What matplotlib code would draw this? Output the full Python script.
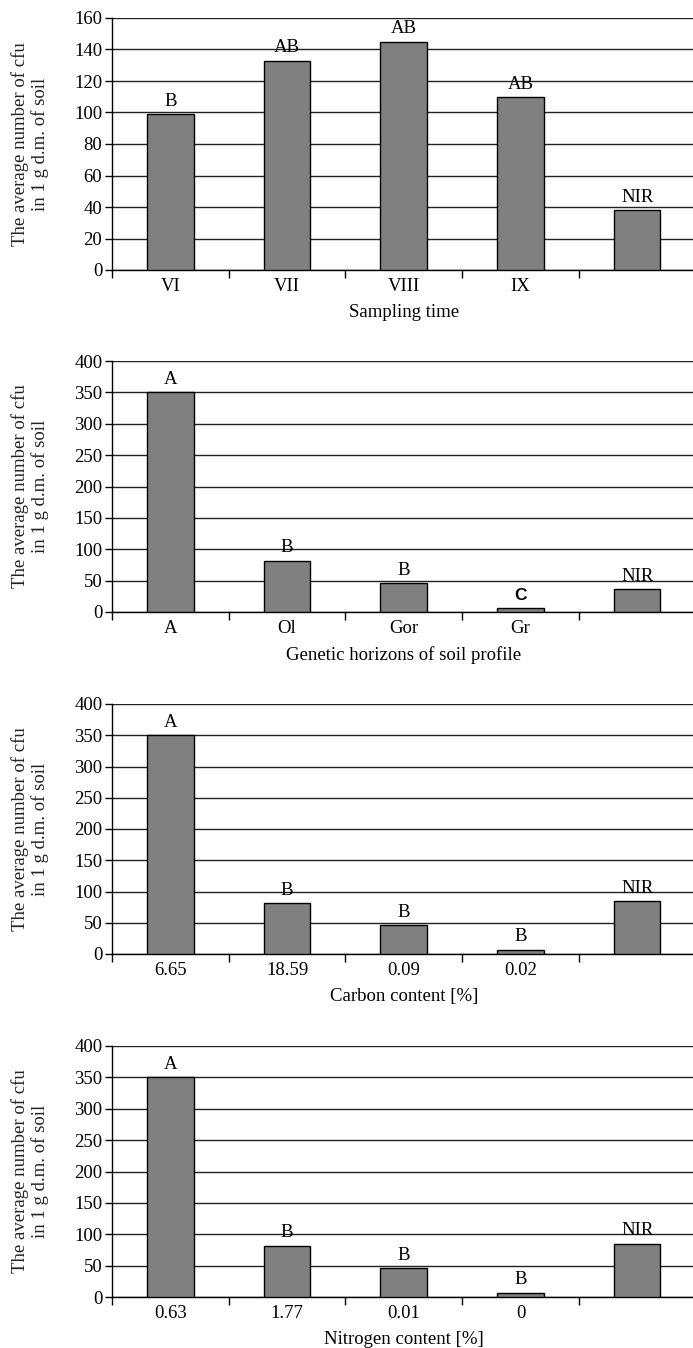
import numpy as np
import matplotlib
matplotlib.use('Agg')
import matplotlib.pyplot as plt

plt.rcParams['font.family'] = ['Liberation Serif', 'DejaVu Serif']

# dane
time_labels = ['VI', 'VII', 'VIII', 'IX', '']
time_values = [99, 133, 145, 110, 38]
time_letters = ['B', 'AB', 'AB', 'AB', 'NIR']

horizon_labels = ['A', 'Ol', 'Gor', 'Gr', '']
horizon_values = [350, 82, 46, 7, 36]
horizon_letters = ['A', 'B', 'B', 'C', 'NIR']

carbon_labels = ['6.65', '18.59', '0.09', '0.02', '']
carbon_values = [350, 82, 46, 7, 85]
carbon_letters = ['A', 'B', 'B', 'B', 'NIR']

nitrogen_labels = ['0.63', '1.77', '0.01', '0', '']
nitrogen_values = [350, 82, 46, 7, 85]
nitrogen_letters = ['A', 'B', 'B', 'B', 'NIR']

W, H = 693, 1348
fs = 13.5
fig = plt.figure(figsize=(W / 100, H / 100), dpi=100)

# (top px, bottom px) of each panel
panels = [
    (time_labels, time_values, time_letters, 'Sampling time', 160, 20, 18, 270),
    (horizon_labels, horizon_values, horizon_letters, 'Genetic horizons of soil profile', 400, 50, 361, 612),
    (carbon_labels, carbon_values, carbon_letters, 'Carbon content [%]', 400, 50, 704, 954),
    (nitrogen_labels, nitrogen_values, nitrogen_letters, 'Nitrogen content [%]', 400, 50, 1046, 1297),
]

left_px = 112
width_px = 583.5

for labels, values, letters, xlabel, ymax, ystep, top, bottom in panels:
    ax = fig.add_axes([left_px / W, 1 - bottom / H, width_px / W, (bottom - top) / H])
    x = np.arange(len(values)) + 0.5
    ax.bar(x, values, width=0.4, color='#808080', edgecolor='black', linewidth=1, zorder=3)
    ax.set_xlim(0, len(values))
    ax.set_ylim(0, ymax)
    ax.set_yticks(np.arange(0, ymax + 1, ystep))
    ax.yaxis.grid(True, color='#222222', linewidth=1)
    ax.set_axisbelow(True)

    # kreski na granicach kategorii, etykiety w srodku
    ax.set_xticks(np.arange(len(values)))
    ax.set_xticklabels([])
    ax.set_xticks(x, minor=True)
    ax.set_xticklabels(labels, minor=True)
    ax.tick_params(axis='x', which='major', length=6, width=1, direction='out')
    ax.tick_params(axis='x', which='minor', length=0, pad=6, labelsize=fs)
    ax.tick_params(axis='y', length=5, width=1, pad=2, labelsize=fs)

    for s in ['top', 'right']:
        ax.spines[s].set_visible(False)
    ax.spines['left'].set_linewidth(1)
    ax.spines['bottom'].set_linewidth(1)

    ax.set_xlabel(xlabel, fontsize=fs, labelpad=6)
    ax.text(-0.141, 0.5, 'The average number of cfu\nin 1 g d.m. of soil',
            transform=ax.transAxes, rotation=90, ha='center', va='center',
            fontsize=fs, linespacing=1.15, color='#222222')

    for xi, v, t in zip(x, values, letters):
        if t == 'C':
            ax.annotate(t, (xi, v), xytext=(0, 3), textcoords='offset points',
                        ha='center', va='bottom', fontsize=fs - 1, fontweight='bold',
                        family=['Liberation Sans', 'DejaVu Sans'])
        else:
            ax.annotate(t, (xi, v), xytext=(0, 3), textcoords='offset points',
                        ha='center', va='bottom', fontsize=fs)

fig.savefig('out.png', dpi=100)
